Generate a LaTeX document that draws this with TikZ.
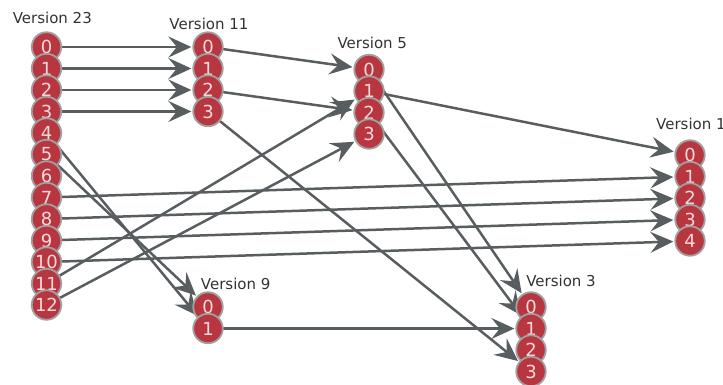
\documentclass[tikz,border=0pt]{standalone}
\usepackage{fontspec}
\setmainfont{DejaVu Sans}
\usetikzlibrary{arrows.meta}
\pgfdeclarelayer{background}
\pgfsetlayers{background,main}
\definecolor{nodered}{HTML}{B8363F}
\definecolor{nodeedge}{HTML}{A0A0A0}
\definecolor{nodetext}{HTML}{F6DADA}
\definecolor{linkgray}{HTML}{585E60}
\definecolor{labelgray}{HTML}{333333}
\tikzset{
  item/.style={circle, fill=nodered, draw=nodeedge, line width=1.8pt,
    minimum size=29.5pt, inner sep=0pt, text=nodetext,
    font=\fontsize{18}{18}\selectfont},
  vlabel/.style={anchor=base, text=labelgray, inner sep=0pt,
    font=\fontsize{15}{15}\selectfont},
  link/.style={draw=linkgray, line width=2.5pt, shorten >=1pt,
    -{Stealth[length=23pt,width=21pt,inset=8.5pt]}},
}
\begin{document}
\begin{tikzpicture}[x=1pt,y=-1pt]
\useasboundingbox (0,0) rectangle (723,385);

% version headings
\node[vlabel] (h23) at (52.3,23.3) {Version 23};
\node[vlabel] (h11) at (209,29.3) {Version 11};
\node[vlabel] (h5)  at (372.3,48.3) {Version 5};
\node[vlabel,anchor=base west] (h1) at (656,129.3) {Version 1};
\node[vlabel] (h9)  at (235.7,289.3) {Version 9};
\node[vlabel] (h3)  at (561,286) {Version 3};

% item stacks, each later circle overlapping the one above it
\foreach \i in {0,...,12} \node[item] (v23-\i) at (46.5,{47+21.5*\i}) {\i};
\foreach \i in {0,...,3}  \node[item] (v11-\i) at (208,{47+21.5*\i}) {\i};
\foreach \i in {0,...,3}  \node[item] (v5-\i)  at (369,{69.5+21.5*\i}) {\i};
\foreach \i in {0,...,4}  \node[item] (v1-\i)  at (690,{155+21.5*\i}) {\i};
\foreach \i in {0,1}      \node[item] (v9-\i)  at (208,{307+21.5*\i}) {\i};
\foreach \i in {0,...,3}  \node[item] (v3-\i)  at (531,{307+21.5*\i}) {\i};

% links run from item centres, underneath the circles
\begin{pgfonlayer}{background}
\foreach \i in {0,...,3} \draw[link] (v23-\i.center) -- (v11-\i);
\draw[link] (v11-0.center) -- (v5-0);
\draw[link] (v11-2.center) -- (v5-2);
\draw[link] (v23-11.center) -- (v5-1);
\draw[link] (v23-12.center) -- (v5-3);
\draw[link] (v5-1.center) -- (v1-0);
\draw[link] (v5-0.center) -- (v3-0);
\draw[link] (v5-2.center) -- (v3-1);
\draw[link] (v11-3.center) -- (v3-3);
\draw[link] (v9-1.center) -- (v3-1);
\draw[link] (v23-5.center) -- (v9-0);
\draw[link] (v23-4.center) -- (v9-1);
\foreach \i/\j in {7/1,8/2,9/3,10/4} \draw[link] (v23-\i.center) -- (v1-\j);
\end{pgfonlayer}
\end{tikzpicture}
\end{document}
